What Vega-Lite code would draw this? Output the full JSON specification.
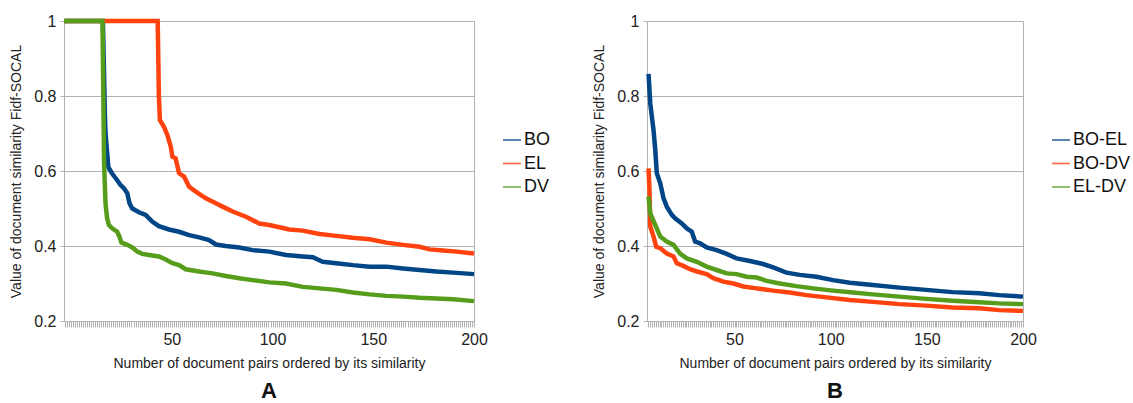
{
  "$schema": "https://vega.github.io/schema/vega-lite/v6.json",
  "padding": {"left": 9, "top": 11, "right": 5, "bottom": 0},
  "background": "white",
  "config": {
    "font": "Liberation Sans",
    "view": {"stroke": "#b3b3b3", "strokeWidth": 1},
    "axis": {
      "domainColor": "#b3b3b3",
      "tickColor": "#b3b3b3",
      "gridColor": "#b3b3b3",
      "labelFont": "Liberation Sans",
      "labelFontSize": 16,
      "labelColor": "#222222",
      "titleFont": "Liberation Sans",
      "titleFontSize": 14,
      "titleFontWeight": "normal",
      "titleColor": "#222222"
    },
    "legend": {
      "labelFont": "Liberation Sans",
      "labelFontSize": 18,
      "labelColor": "#111111",
      "symbolType": "stroke",
      "symbolSize": 324,
      "symbolStrokeWidth": 1.6,
      "symbolOpacity": 0.8,
      "labelOffset": 2,
      "rowPadding": 4.5
    },
    "title": {"font": "Liberation Sans", "fontSize": 22, "fontWeight": "bold", "color": "#111111"}
  },
  "datasets": {
    "A": [
      {"series": "BO", "x": -3.5, "value": 1.0},
      {"series": "BO", "x": 15.8, "value": 1.0},
      {"series": "BO", "x": 16.8, "value": 0.75},
      {"series": "BO", "x": 17.1, "value": 0.70},
      {"series": "BO", "x": 18.5, "value": 0.61},
      {"series": "BO", "x": 20.3, "value": 0.594},
      {"series": "BO", "x": 22.8, "value": 0.576},
      {"series": "BO", "x": 24.5, "value": 0.563},
      {"series": "BO", "x": 26.2, "value": 0.554},
      {"series": "BO", "x": 27.9, "value": 0.541},
      {"series": "BO", "x": 29.0, "value": 0.514},
      {"series": "BO", "x": 30.4, "value": 0.500},
      {"series": "BO", "x": 33.7, "value": 0.490},
      {"series": "BO", "x": 37.0, "value": 0.483},
      {"series": "BO", "x": 40.3, "value": 0.465},
      {"series": "BO", "x": 43.6, "value": 0.453},
      {"series": "BO", "x": 48.6, "value": 0.444},
      {"series": "BO", "x": 53.6, "value": 0.438},
      {"series": "BO", "x": 58.6, "value": 0.429},
      {"series": "BO", "x": 63.6, "value": 0.423},
      {"series": "BO", "x": 68.5, "value": 0.416},
      {"series": "BO", "x": 71.9, "value": 0.404},
      {"series": "BO", "x": 76.8, "value": 0.400},
      {"series": "BO", "x": 83.5, "value": 0.396},
      {"series": "BO", "x": 90.1, "value": 0.389},
      {"series": "BO", "x": 98.4, "value": 0.385},
      {"series": "BO", "x": 106.7, "value": 0.376},
      {"series": "BO", "x": 115.0, "value": 0.372},
      {"series": "BO", "x": 120.0, "value": 0.370},
      {"series": "BO", "x": 124.9, "value": 0.358},
      {"series": "BO", "x": 131.6, "value": 0.354},
      {"series": "BO", "x": 139.9, "value": 0.349},
      {"series": "BO", "x": 148.2, "value": 0.345},
      {"series": "BO", "x": 156.5, "value": 0.345},
      {"series": "BO", "x": 164.8, "value": 0.340},
      {"series": "BO", "x": 173.0, "value": 0.336},
      {"series": "BO", "x": 181.3, "value": 0.332},
      {"series": "BO", "x": 189.7, "value": 0.329},
      {"series": "BO", "x": 200.0, "value": 0.325},

      {"series": "EL", "x": -3.5, "value": 1.0},
      {"series": "EL", "x": 43.0, "value": 1.0},
      {"series": "EL", "x": 43.6, "value": 0.80},
      {"series": "EL", "x": 44.1, "value": 0.736},
      {"series": "EL", "x": 46.1, "value": 0.718},
      {"series": "EL", "x": 47.8, "value": 0.696},
      {"series": "EL", "x": 49.5, "value": 0.665},
      {"series": "EL", "x": 50.3, "value": 0.638},
      {"series": "EL", "x": 51.9, "value": 0.634},
      {"series": "EL", "x": 53.6, "value": 0.594},
      {"series": "EL", "x": 56.1, "value": 0.585},
      {"series": "EL", "x": 58.6, "value": 0.558},
      {"series": "EL", "x": 61.9, "value": 0.545},
      {"series": "EL", "x": 66.9, "value": 0.527},
      {"series": "EL", "x": 71.9, "value": 0.514},
      {"series": "EL", "x": 75.2, "value": 0.505},
      {"series": "EL", "x": 80.2, "value": 0.492},
      {"series": "EL", "x": 86.8, "value": 0.478},
      {"series": "EL", "x": 93.4, "value": 0.460},
      {"series": "EL", "x": 98.4, "value": 0.456},
      {"series": "EL", "x": 103.4, "value": 0.450},
      {"series": "EL", "x": 108.3, "value": 0.444},
      {"series": "EL", "x": 115.0, "value": 0.441},
      {"series": "EL", "x": 123.3, "value": 0.432},
      {"series": "EL", "x": 131.6, "value": 0.427},
      {"series": "EL", "x": 139.9, "value": 0.422},
      {"series": "EL", "x": 148.2, "value": 0.418},
      {"series": "EL", "x": 156.5, "value": 0.409},
      {"series": "EL", "x": 164.8, "value": 0.403},
      {"series": "EL", "x": 173.0, "value": 0.398},
      {"series": "EL", "x": 178.0, "value": 0.391},
      {"series": "EL", "x": 184.7, "value": 0.388},
      {"series": "EL", "x": 191.3, "value": 0.385},
      {"series": "EL", "x": 200.0, "value": 0.380},

      {"series": "DV", "x": -3.5, "value": 1.0},
      {"series": "DV", "x": 15.6, "value": 1.0},
      {"series": "DV", "x": 16.4, "value": 0.62},
      {"series": "DV", "x": 17.1, "value": 0.514},
      {"series": "DV", "x": 17.9, "value": 0.474},
      {"series": "DV", "x": 18.8, "value": 0.456},
      {"series": "DV", "x": 20.4, "value": 0.447},
      {"series": "DV", "x": 22.9, "value": 0.438},
      {"series": "DV", "x": 24.0, "value": 0.425},
      {"series": "DV", "x": 25.0, "value": 0.409},
      {"series": "DV", "x": 27.9, "value": 0.403},
      {"series": "DV", "x": 30.4, "value": 0.396},
      {"series": "DV", "x": 32.9, "value": 0.385},
      {"series": "DV", "x": 35.4, "value": 0.379},
      {"series": "DV", "x": 38.7, "value": 0.376},
      {"series": "DV", "x": 43.6, "value": 0.372},
      {"series": "DV", "x": 47.0, "value": 0.364},
      {"series": "DV", "x": 50.3, "value": 0.354},
      {"series": "DV", "x": 53.6, "value": 0.349},
      {"series": "DV", "x": 56.9, "value": 0.338},
      {"series": "DV", "x": 63.6, "value": 0.332},
      {"series": "DV", "x": 70.2, "value": 0.327},
      {"series": "DV", "x": 76.8, "value": 0.320},
      {"series": "DV", "x": 83.5, "value": 0.314},
      {"series": "DV", "x": 90.1, "value": 0.309},
      {"series": "DV", "x": 98.4, "value": 0.303},
      {"series": "DV", "x": 106.7, "value": 0.300},
      {"series": "DV", "x": 115.0, "value": 0.291},
      {"series": "DV", "x": 123.3, "value": 0.287},
      {"series": "DV", "x": 131.6, "value": 0.283},
      {"series": "DV", "x": 139.9, "value": 0.276},
      {"series": "DV", "x": 148.2, "value": 0.271},
      {"series": "DV", "x": 156.5, "value": 0.267},
      {"series": "DV", "x": 164.8, "value": 0.265},
      {"series": "DV", "x": 173.0, "value": 0.262},
      {"series": "DV", "x": 181.3, "value": 0.260},
      {"series": "DV", "x": 189.7, "value": 0.258},
      {"series": "DV", "x": 200.0, "value": 0.253}
    ],
    "B": [
      {"series": "BO-EL", "x": 5.3, "value": 0.859},
      {"series": "BO-EL", "x": 6.2, "value": 0.780},
      {"series": "BO-EL", "x": 7.9, "value": 0.709},
      {"series": "BO-EL", "x": 8.8, "value": 0.656},
      {"series": "BO-EL", "x": 9.6, "value": 0.594},
      {"series": "BO-EL", "x": 11.4, "value": 0.567},
      {"series": "BO-EL", "x": 13.1, "value": 0.527},
      {"series": "BO-EL", "x": 14.8, "value": 0.505},
      {"series": "BO-EL", "x": 17.4, "value": 0.483},
      {"series": "BO-EL", "x": 19.1, "value": 0.474},
      {"series": "BO-EL", "x": 22.6, "value": 0.460},
      {"series": "BO-EL", "x": 25.2, "value": 0.447},
      {"series": "BO-EL", "x": 27.8, "value": 0.438},
      {"series": "BO-EL", "x": 29.5, "value": 0.412},
      {"series": "BO-EL", "x": 32.1, "value": 0.407},
      {"series": "BO-EL", "x": 35.5, "value": 0.396},
      {"series": "BO-EL", "x": 40.7, "value": 0.389},
      {"series": "BO-EL", "x": 45.9, "value": 0.379},
      {"series": "BO-EL", "x": 51.1, "value": 0.367},
      {"series": "BO-EL", "x": 58.0, "value": 0.360},
      {"series": "BO-EL", "x": 64.9, "value": 0.352},
      {"series": "BO-EL", "x": 70.1, "value": 0.343},
      {"series": "BO-EL", "x": 77.0, "value": 0.329},
      {"series": "BO-EL", "x": 83.9, "value": 0.323},
      {"series": "BO-EL", "x": 92.6, "value": 0.318},
      {"series": "BO-EL", "x": 101.2, "value": 0.309},
      {"series": "BO-EL", "x": 109.9, "value": 0.302},
      {"series": "BO-EL", "x": 121.9, "value": 0.296},
      {"series": "BO-EL", "x": 135.8, "value": 0.289},
      {"series": "BO-EL", "x": 149.6, "value": 0.283},
      {"series": "BO-EL", "x": 163.4, "value": 0.277},
      {"series": "BO-EL", "x": 177.2, "value": 0.274},
      {"series": "BO-EL", "x": 187.6, "value": 0.269},
      {"series": "BO-EL", "x": 200.0, "value": 0.265},

      {"series": "BO-DV", "x": 5.3, "value": 0.607},
      {"series": "BO-DV", "x": 5.8, "value": 0.549},
      {"series": "BO-DV", "x": 6.2, "value": 0.452},
      {"series": "BO-DV", "x": 7.9, "value": 0.425},
      {"series": "BO-DV", "x": 9.3, "value": 0.398},
      {"series": "BO-DV", "x": 11.4, "value": 0.394},
      {"series": "BO-DV", "x": 14.8, "value": 0.380},
      {"series": "BO-DV", "x": 18.3, "value": 0.372},
      {"series": "BO-DV", "x": 20.0, "value": 0.354},
      {"series": "BO-DV", "x": 23.4, "value": 0.347},
      {"series": "BO-DV", "x": 26.9, "value": 0.338},
      {"series": "BO-DV", "x": 30.4, "value": 0.332},
      {"series": "BO-DV", "x": 35.5, "value": 0.325},
      {"series": "BO-DV", "x": 39.0, "value": 0.314},
      {"series": "BO-DV", "x": 44.2, "value": 0.305},
      {"series": "BO-DV", "x": 49.4, "value": 0.300},
      {"series": "BO-DV", "x": 54.6, "value": 0.292},
      {"series": "BO-DV", "x": 61.5, "value": 0.287},
      {"series": "BO-DV", "x": 70.1, "value": 0.281},
      {"series": "BO-DV", "x": 78.7, "value": 0.276},
      {"series": "BO-DV", "x": 87.4, "value": 0.269},
      {"series": "BO-DV", "x": 97.8, "value": 0.263},
      {"series": "BO-DV", "x": 109.9, "value": 0.256},
      {"series": "BO-DV", "x": 121.9, "value": 0.251},
      {"series": "BO-DV", "x": 135.8, "value": 0.245},
      {"series": "BO-DV", "x": 149.6, "value": 0.241},
      {"series": "BO-DV", "x": 163.4, "value": 0.236},
      {"series": "BO-DV", "x": 177.2, "value": 0.234},
      {"series": "BO-DV", "x": 187.6, "value": 0.229},
      {"series": "BO-DV", "x": 200.0, "value": 0.227},

      {"series": "EL-DV", "x": 5.3, "value": 0.532},
      {"series": "EL-DV", "x": 6.2, "value": 0.487},
      {"series": "EL-DV", "x": 8.8, "value": 0.456},
      {"series": "EL-DV", "x": 11.4, "value": 0.425},
      {"series": "EL-DV", "x": 14.8, "value": 0.412},
      {"series": "EL-DV", "x": 18.3, "value": 0.403},
      {"series": "EL-DV", "x": 21.7, "value": 0.380},
      {"series": "EL-DV", "x": 25.2, "value": 0.367},
      {"series": "EL-DV", "x": 30.4, "value": 0.358},
      {"series": "EL-DV", "x": 35.5, "value": 0.345},
      {"series": "EL-DV", "x": 40.7, "value": 0.336},
      {"series": "EL-DV", "x": 45.9, "value": 0.327},
      {"series": "EL-DV", "x": 51.1, "value": 0.325},
      {"series": "EL-DV", "x": 56.3, "value": 0.318},
      {"series": "EL-DV", "x": 61.5, "value": 0.316},
      {"series": "EL-DV", "x": 66.7, "value": 0.307},
      {"series": "EL-DV", "x": 73.6, "value": 0.300},
      {"series": "EL-DV", "x": 82.2, "value": 0.293},
      {"series": "EL-DV", "x": 90.9, "value": 0.287},
      {"series": "EL-DV", "x": 101.2, "value": 0.281},
      {"series": "EL-DV", "x": 111.6, "value": 0.276},
      {"series": "EL-DV", "x": 121.9, "value": 0.271},
      {"series": "EL-DV", "x": 135.8, "value": 0.265},
      {"series": "EL-DV", "x": 149.6, "value": 0.259},
      {"series": "EL-DV", "x": 163.4, "value": 0.254},
      {"series": "EL-DV", "x": 177.2, "value": 0.250},
      {"series": "EL-DV", "x": 187.6, "value": 0.247},
      {"series": "EL-DV", "x": 200.0, "value": 0.245}
    ]
  },
  "spacing": 40,
  "resolve": {"scale": {"color": "independent"}, "legend": {"color": "independent"}},
  "hconcat": [
    {
      "width": 410,
      "height": 300,
      "data": {"name": "A"},
      "title": {"text": "A", "orient": "bottom", "anchor": "middle", "offset": 11},
      "mark": {"type": "line", "strokeWidth": 4.5},
      "encoding": {
        "x": {
          "field": "x", "type": "quantitative",
          "scale": {"domain": [-3.5, 200], "nice": false, "zero": false},
          "axis": {
            "title": "Number of document pairs ordered by its similarity",
            "tickCount": 204, "grid": false, "tickSize": 6,
            "labelExpr": "datum.value % 50 === 0 && datum.value > 0 ? datum.label : ''",
            "labelFlush": false, "labelOverlap": false, "labelBound": false,
            "labelPadding": 4, "titlePadding": 9
          }
        },
        "y": {
          "field": "value", "type": "quantitative",
          "scale": {"domain": [0.2, 1], "nice": false, "zero": false},
          "axis": {
            "title": "Value of document similarity Fidf-SOCAL",
            "values": [0.2, 0.4, 0.6, 0.8, 1], "format": "~g",
            "tickSize": 4, "labelPadding": 4, "titlePadding": 10
          }
        },
        "color": {
          "field": "series", "type": "nominal",
          "scale": {"domain": ["BO", "EL", "DV"], "range": ["#004586", "#ff420e", "#579d1c"]},
          "legend": {"title": null, "orient": "none", "legendX": 438, "legendY": 109}
        }
      }
    },
    {
      "width": 376,
      "height": 300,
      "data": {"name": "B"},
      "title": {"text": "B", "orient": "bottom", "anchor": "middle", "offset": 11},
      "mark": {"type": "line", "strokeWidth": 4.5},
      "encoding": {
        "x": {
          "field": "x", "type": "quantitative",
          "scale": {"domain": [4.5, 200], "nice": false, "zero": false},
          "axis": {
            "title": "Number of document pairs ordered by its similarity",
            "tickCount": 196, "grid": false, "tickSize": 6,
            "labelExpr": "datum.value % 50 === 0 && datum.value > 0 ? datum.label : ''",
            "labelFlush": false, "labelOverlap": false, "labelBound": false,
            "labelPadding": 4, "titlePadding": 9
          }
        },
        "y": {
          "field": "value", "type": "quantitative",
          "scale": {"domain": [0.2, 1], "nice": false, "zero": false},
          "axis": {
            "title": "Value of document similarity Fidf-SOCAL",
            "values": [0.2, 0.4, 0.6, 0.8, 1], "format": "~g",
            "tickSize": 4, "labelPadding": 4, "titlePadding": 10
          }
        },
        "color": {
          "field": "series", "type": "nominal",
          "scale": {"domain": ["BO-EL", "BO-DV", "EL-DV"], "range": ["#004586", "#ff420e", "#579d1c"]},
          "legend": {"title": null, "orient": "none", "legendX": 404, "legendY": 109}
        }
      }
    }
  ]
}
